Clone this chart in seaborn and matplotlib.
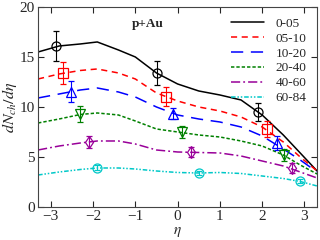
import numpy as np
import pandas as pd
import matplotlib
matplotlib.use('Agg')
import matplotlib.pyplot as plt
import seaborn as sns

# centrality classes
centralities = ['0-05', '05-10', '10-20', '20-40', '40-60', '60-84']
colors = ['black', 'red', 'blue', 'green', '#990099', '#00c8c8']
markers = ['o', 's', '^', 'v', 'd', 'o']

# model curves
eta_grid = [-3.3, -2.8, -2.3, -1.9, -1.4, -1.0, -0.5, 0.0, 0.5, 1.0, 1.5, 2.0, 2.5, 2.9, 3.3]
curve_0005 = [15.5, 16.1, 16.3, 16.5, 15.7, 15.0, 13.4, 12.3, 11.6, 11.2, 10.7, 9.2, 7.2, 5.4, 3.6]
curve_0510 = [12.8, 13.3, 13.65, 13.8, 13.4, 12.8, 11.4, 10.6, 10.0, 9.6, 9.0, 8.0, 6.5, 5.0, 3.6]
curve_1020 = [10.9, 11.3, 11.7, 11.9, 11.5, 11.0, 10.0, 9.2, 8.8, 8.5, 8.0, 7.1, 5.8, 4.7, 3.5]
curve_2040 = [8.4, 8.8, 9.25, 9.4, 9.2, 8.6, 7.8, 7.5, 7.2, 7.0, 6.6, 6.1, 5.2, 4.2, 3.3]
curve_4060 = [5.7, 6.1, 6.4, 6.6, 6.6, 6.3, 5.7, 5.5, 5.45, 5.4, 5.1, 4.6, 4.1, 3.5, 2.9]
curve_6084 = [3.2, 3.5, 3.75, 3.9, 3.9, 3.8, 3.6, 3.45, 3.4, 3.45, 3.35, 3.1, 2.85, 2.55, 2.1]

# data points with errors
data_eta = [[-2.88, -0.48, 1.91], [-2.71, -0.28, 2.11], [-2.51, -0.12, 2.35],
            [-2.31, 0.10, 2.52], [-2.09, 0.31, 2.70], [-1.90, 0.51, 2.90]]
data_val = [[16.1, 13.4, 9.5], [13.4, 11.0, 7.8], [11.5, 9.3, 6.4],
            [9.3, 7.5, 5.2], [6.5, 5.5, 3.9], [3.9, 3.4, 2.6]]
data_err = [[1.5, 1.2, 0.9], [1.1, 0.95, 0.8], [1.05, 0.55, 0.7],
            [0.8, 0.6, 0.6], [0.6, 0.5, 0.5], [0.25, 0.2, 0.2]]

curves = [curve_0005, curve_0510, curve_1020, curve_2040, curve_4060, curve_6084]
dash_styles = ['', (4, 3), (8, 5), (2.2, 1.3), (6, 2, 1.2, 2), (3, 1.2, 1, 1.2, 1, 1.2)]

sns.set_theme(style='ticks')
plt.rcParams['font.family'] = ['Liberation Serif', 'DejaVu Serif']
plt.rcParams['mathtext.fontset'] = 'stix'

df = pd.DataFrame({
    'eta': eta_grid * len(centralities),
    'dN': sum(curves, []),
    'cent': np.repeat(centralities, len(eta_grid)),
})

fig = plt.figure(figsize=(3.2, 2.4), dpi=100)
ax = fig.add_axes([0.119, 0.1375, 0.872, 0.8335])

sns.lineplot(data=df, x='eta', y='dN', hue='cent', style='cent',
             palette=dict(zip(centralities, colors)),
             dashes=dict(zip(centralities, dash_styles)),
             linewidth=1.1, legend=False, ax=ax, sort=False)

for i, c in enumerate(centralities):
    ax.errorbar(data_eta[i], data_val[i], yerr=data_err[i], fmt=markers[i],
                mfc='none', mec=colors[i], ecolor=colors[i], ms=6.5, mew=0.9,
                elinewidth=0.8, capsize=2, capthick=0.8, zorder=3)

handles = ax.lines[:len(centralities)]
ax.legend(handles, centralities, loc='upper right', frameon=False, fontsize=9.5,
          handlelength=2.5, labelspacing=0.2, handletextpad=0.9,
          bbox_to_anchor=(1.0, 1.0), borderaxespad=0.4)

ax.text(-0.7, 18.3, 'p+Au', fontsize=9.5, fontweight='bold', ha='center', va='center')

ax.set_xlim(-3.3, 3.3)
ax.set_ylim(0, 20)
ax.set_xticks([-3, -2, -1, 0, 1, 2, 3])
ax.set_yticks([0, 5, 10, 15, 20])
ax.tick_params(direction='in', top=True, right=True, labelsize=11, length=4, width=0.8, pad=2.5)
ax.set_xlabel(r'$\eta$', fontsize=11, labelpad=1)
ax.set_ylabel(r'$dN_{ch}/d\eta$', fontsize=11.5, labelpad=0)
for s in ax.spines.values():
    s.set_linewidth(0.8)
    s.set_color('#444444')

fig.savefig('out.png', dpi=100)
